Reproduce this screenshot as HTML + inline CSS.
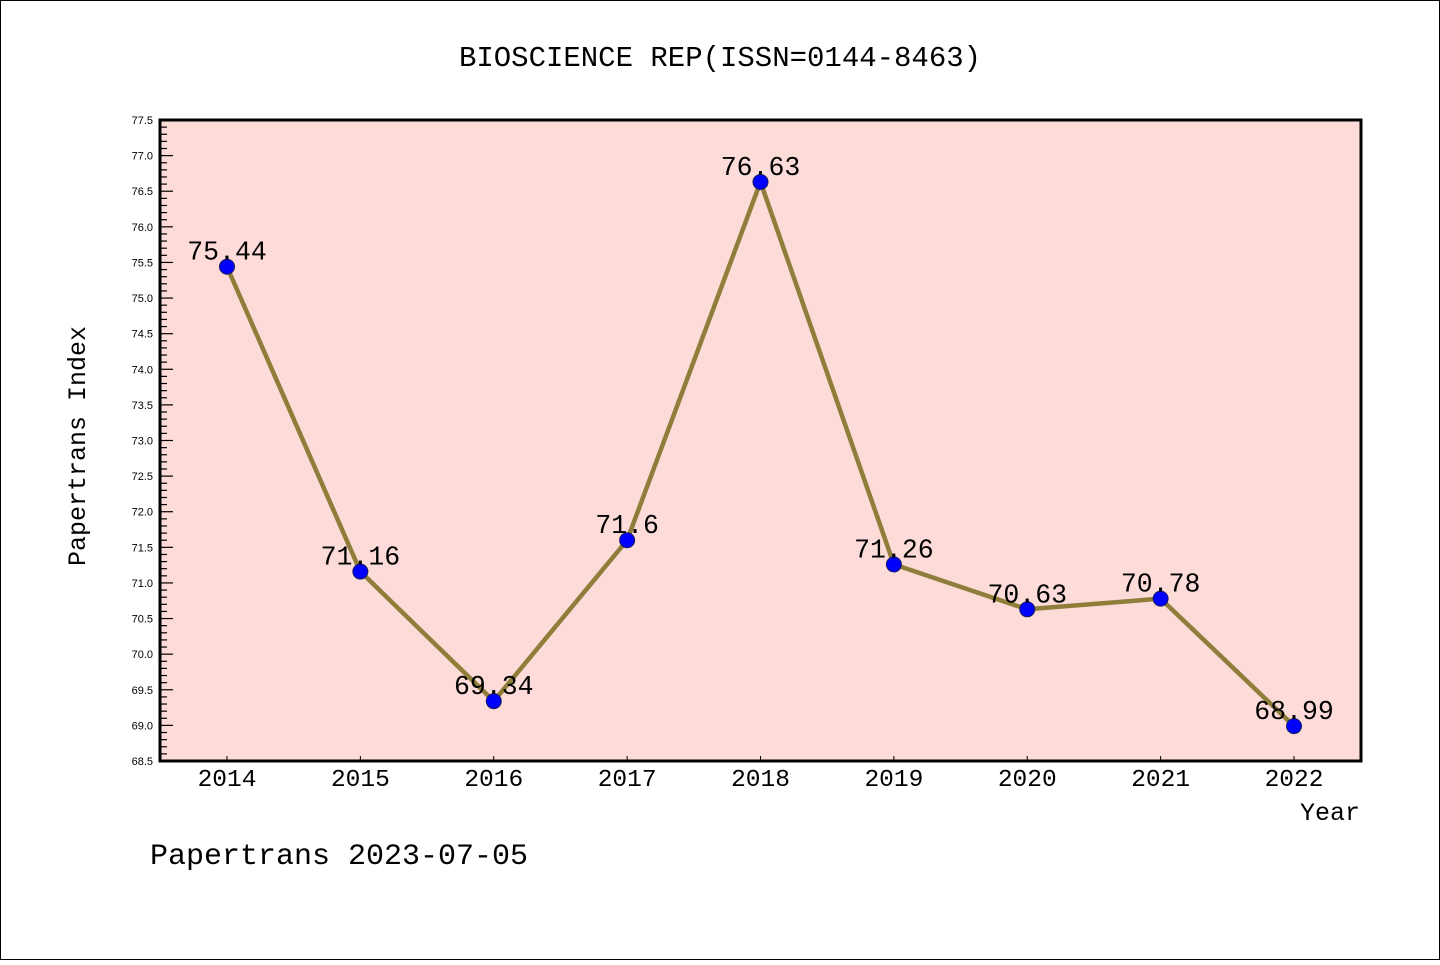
<!DOCTYPE html>
<html><head><meta charset="utf-8"><style>
html,body{margin:0;padding:0;background:#fff;}
svg text{font-family:"Liberation Mono","WenQuanYi Zen Hei",monospace;}
svg text.tk{font-family:"Liberation Sans",sans-serif;}
</style></head><body>
<svg id="chart" width="1440" height="960" xmlns="http://www.w3.org/2000/svg">
<rect x="0.5" y="0.5" width="1439" height="959" fill="#fff" stroke="#000"/>
<text x="720" y="66" font-size="29" text-anchor="middle">BIOSCIENCE REP(ISSN=0144-8463)</text>
<rect x="160" y="120" width="1201" height="641" fill="#fddbd8"/>
<g id="axes"></g>
<g id="series"></g>
<rect x="160" y="120" width="1201" height="641" fill="none" stroke="#000" stroke-width="3"/>
<text x="85" y="446" font-size="25" text-anchor="middle" transform="rotate(-90 85 446)">Papertrans Index</text>
<text x="1360" y="820" font-size="25" text-anchor="end">Year</text>
<text x="150" y="864" font-size="30">Papertrans 2023-07-05</text>
</svg>
<script>
const years=[2014,2015,2016,2017,2018,2019,2020,2021,2022];
const values=[75.44,71.16,69.34,71.6,76.63,71.26,70.63,70.78,68.99];
const valueLabels=["75.44","71.16","69.34","71.6","76.63","71.26","70.63","70.78","68.99"];
const yMin=68.5,yMax=77.5;
const NS="http://www.w3.org/2000/svg";
const X0=227,XSTEP=133.375,TOP=120,BOT=761;
function xs(i){return X0+i*XSTEP;}
function ys(v){return BOT-(v-yMin)/(yMax-yMin)*(BOT-TOP);}
function mk(t,a,p){const e=document.createElementNS(NS,t);for(const k in a)e.setAttribute(k,a[k]);p.appendChild(e);return e;}
const ax=document.getElementById('axes');
for(let k=0;k<=90;k++){
 const v=yMin+k*0.1,y=ys(v),major=k%5===0;
 const t=mk('line',{x1:160,x2:160+(major?13:7),y1:y,y2:y,stroke:'#000','stroke-width':1.2},ax);
 
 
 if(major){const l=mk('text',{x:153,y:y+4,'font-size':11,'text-anchor':'end','class':'tk'},ax);l.textContent=v.toFixed(1);
 
 }
}
years.forEach((yr,i)=>{
 const t=mk('line',{x1:xs(i),x2:xs(i),y1:BOT,y2:BOT-5,stroke:'#000','stroke-width':1},ax);
 
 
 const l=mk('text',{x:xs(i),y:786,'font-size':24.5,'text-anchor':'middle'},ax);l.textContent=yr;
 
 
});
const s=document.getElementById('series');
const pl=mk('polyline',{points:values.map((v,i)=>xs(i)+','+ys(v)).join(' '),fill:'none',stroke:'#8f7d3a','stroke-width':4.5,'stroke-linejoin':'round'},s);


values.forEach((v,i)=>{
 const c=mk('circle',{cx:xs(i),cy:ys(v),r:7.5,fill:'#0000ff',stroke:'#1a1a60','stroke-width':1},s);
 
 
 const l=mk('text',{x:xs(i),y:ys(v)-7,'font-size':26.5,'text-anchor':'middle'},s);l.textContent=valueLabels[i];
 
 
});
</script>
</body></html>
